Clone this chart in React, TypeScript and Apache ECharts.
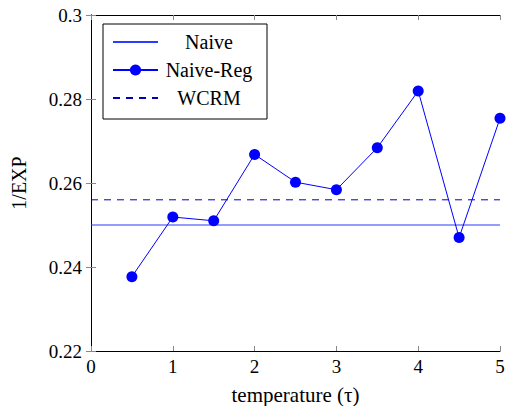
import React, { useEffect, useRef } from "react";
import * as echarts from "echarts";

const temps = [0.5, 1, 1.5, 2, 2.5, 3, 3.5, 4, 4.5, 5];
const naiveReg = [0.2377, 0.2519, 0.251, 0.2668, 0.2602, 0.2584, 0.2684, 0.2819, 0.247, 0.2754];
const naiveValue = 0.25;
const wcrmValue = 0.256;
const xRange = [0, 5];
const seriesNames = ["Naive", "Naive-Reg", "WCRM"];

const FONT = "'Liberation Serif', 'DejaVu Serif', serif";

export default function App() {
  const ref = useRef<HTMLDivElement>(null);
  useEffect(() => {
    const chart = echarts.init(ref.current!, null, { renderer: "svg" });
    const blue = "#0000ff";
    const tickStyle = { show: true, inside: true, length: 5, lineStyle: { color: "#888", width: 1 } };
    const lineAx = { show: true, lineStyle: { color: "#000", width: 1 } };
    chart.setOption({
      animation: false,
      textStyle: { fontFamily: FONT },
      grid: { left: 91, right: 8, top: 15, bottom: 55, containLabel: false, outerBoundsMode: "none" },
      legend: {
        orient: "vertical",
        left: 103,
        top: 24,
        padding: [8, 12, 11, 9],
        itemGap: 8,
        itemWidth: 45,
        itemHeight: 14,
        borderColor: "#000",
        borderWidth: 1,
        borderRadius: 0,
        data: [
          { name: seriesNames[0], itemStyle: { opacity: 0 } },
          { name: seriesNames[1] },
          { name: seriesNames[2], itemStyle: { opacity: 0 } },
        ],
        formatter: (n: string) => `{c|${n}}`,
        textStyle: {
          fontFamily: FONT,
          fontSize: 20,
          color: "#000",
          rich: { c: { width: 92, align: "center", height: 20, lineHeight: 20, fontFamily: FONT, fontSize: 20, color: "#000" } },
        },
      },
      xAxis: [
        {
          type: "value",
          min: 0,
          max: 5,
          interval: 1,
          name: "temperature (τ)",
          nameLocation: "middle",
          nameGap: 33,
          nameTextStyle: { fontFamily: FONT, fontSize: 21, color: "#000" },
          axisLine: lineAx,
          axisTick: tickStyle,
          axisLabel: { fontFamily: FONT, fontSize: 19, color: "#000", margin: 6 },
          splitLine: { show: false },
        },
        {
          type: "value",
          position: "top",
          min: 0,
          max: 5,
          interval: 1,
          axisLine: lineAx,
          axisTick: tickStyle,
          axisLabel: { show: false },
          splitLine: { show: false },
        },
      ],
      yAxis: [
        {
          type: "value",
          min: 0.22,
          max: 0.3,
          interval: 0.02,
          name: "1/EXP",
          nameLocation: "middle",
          nameGap: 62,
          nameTextStyle: { fontFamily: FONT, fontSize: 20, color: "#000" },
          axisLine: lineAx,
          axisTick: tickStyle,
          axisLabel: {
            fontFamily: FONT,
            fontSize: 19,
            color: "#000",
            margin: 9,
            formatter: (v: number) => String(parseFloat(v.toFixed(2))),
          },
          splitLine: { show: false },
        },
        {
          type: "value",
          position: "right",
          min: 0.22,
          max: 0.3,
          interval: 0.02,
          axisLine: lineAx,
          axisTick: tickStyle,
          axisLabel: { show: false },
          splitLine: { show: false },
        },
      ],
      series: [
        {
          name: seriesNames[0],
          type: "line",
          data: xRange.map((x) => [x, naiveValue]),
          symbol: "none",
          lineStyle: { color: "#2a3cff", width: 1.2 },
          itemStyle: { color: "#2a3cff" },
        },
        {
          name: seriesNames[1],
          type: "line",
          data: temps.map((t, i) => [t, naiveReg[i]]),
          symbol: "circle",
          symbolSize: 11,
          lineStyle: { color: blue, width: 1 },
          itemStyle: { color: blue },
          z: 5,
        },
        {
          name: seriesNames[2],
          type: "line",
          data: xRange.map((x) => [x, wcrmValue]),
          symbol: "none",
          lineStyle: { color: "#0000b8", width: 1, type: [7, 6] },
          itemStyle: { color: "#0000b8" },
        },
      ],
    });
    return () => chart.dispose();
  }, []);
  return <div ref={ref} style={{ width: 508, height: 406, position: "absolute", left: 0, top: 0, background: "#fff" }} />;
}
